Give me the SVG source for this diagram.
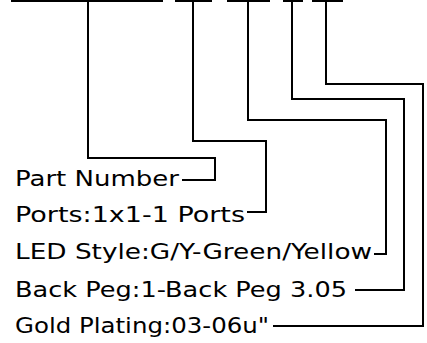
<svg xmlns="http://www.w3.org/2000/svg" width="427" height="343" viewBox="0 0 427 343">
<style>
.ln{fill:none;stroke:#000;stroke-width:2;stroke-linecap:square;stroke-linejoin:miter}
.t{font-family:"DejaVu Sans","Liberation Sans",sans-serif;font-size:21.5px;fill:#000}
</style>
<rect width="427" height="343" fill="#fff"/>
<g id="segments">
<path class="ln" d="M12 1H162M176 1H211M228 1H269M284 1H302M313 1H342"/>
</g>
<g id="connectors">
<path class="ln" d="M88 1V158H215V180H183"/>
<path class="ln" d="M193 1V141H266V212H248"/>
<path class="ln" d="M248 1V120H386V254H375"/>
<path class="ln" d="M292 1V99H404V290H356"/>
<path class="ln" d="M326 1V84H423V326H274"/>
</g>
<g id="part-number"><text class="t" x="15" y="186" textLength="164" lengthAdjust="spacingAndGlyphs">Part Number</text></g>
<g id="ports"><text class="t" x="15" y="222" textLength="230" lengthAdjust="spacingAndGlyphs">Ports:1x1-1 Ports</text></g>
<g id="led-style"><text class="t" x="15" y="259" textLength="357" lengthAdjust="spacingAndGlyphs">LED Style:G/Y-Green/Yellow</text></g>
<g id="back-peg"><text class="t" x="15" y="297" textLength="332" lengthAdjust="spacingAndGlyphs">Back Peg:1-Back Peg 3.05</text></g>
<g id="gold-plating"><text class="t" x="15" y="333" textLength="254" lengthAdjust="spacingAndGlyphs">Gold Plating:03-06u"</text></g>
</svg>
